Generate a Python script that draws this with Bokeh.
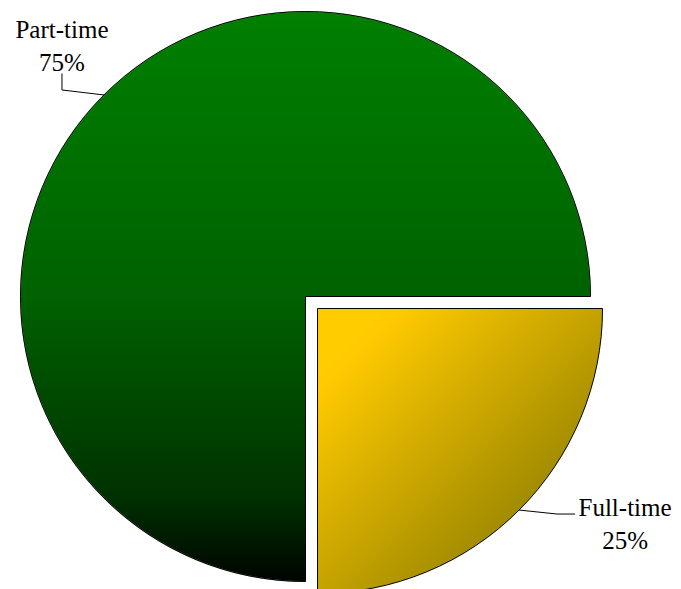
import numpy as np
from bokeh.plotting import figure
from bokeh.models import Range1d, ColumnDataSource
from bokeh.embed import file_html
from bokeh.resources import INLINE
from bokeh.core.properties import value

# ---- data ----
categories = ["Part-time", "Full-time"]
values = [75, 25]
percent_labels = ["75%", "25%"]
explode = [0.0, 17.0]

# ---- layout (pixel units, y up) ----
W, H = 681, 589
CX, CY, R = 305.0, 293.0, 285.0
FONT = "Liberation Serif"
FSIZE = "25px"

total = float(sum(values))
starts, ends = [], []
a = 0.0
for v in values:
    starts.append(a)
    a += 2 * np.pi * v / total
    ends.append(a)
mids = [(s + e) / 2 for s, e in zip(starts, ends)]
cxs = [CX + d * np.cos(m) for d, m in zip(explode, mids)]
cys = [CY + d * np.sin(m) for d, m in zip(explode, mids)]

p = figure(width=W, height=H, x_range=Range1d(0, W), y_range=Range1d(0, H),
           output_backend="svg", toolbar_location=None, min_border=0)
p.axis.visible = False
p.grid.grid_line_color = None
p.outline_line_color = None
p.background_fill_color = "white"
p.border_fill_color = "white"


def green_fn(u, v):
    # vertical gradient over the circle: top bright green -> bottom black
    ty = np.clip((v + 1.0) / 2.0, 0, 1)
    g = np.interp(ty, [0.0, 0.5, 0.85, 1.0], [128, 98, 50, 5])
    return np.zeros_like(g), g, np.zeros_like(g)


def yellow_fn(u, v):
    # diagonal gradient over the quadrant: top-left gold -> bottom-right olive
    t = np.clip((u + v) / 2.0, 0, 1)
    r = np.clip(280 - 167 * t, 0, 255)
    g = np.clip(218 - 110 * t, 0, 204)
    return r, g, np.zeros_like(r)


def wedge_image(cx, cy, r, start, end, fn):
    x0 = np.floor(cx - r) - 2
    y0 = np.floor(cy - r) - 2
    n = int(np.ceil(2 * r)) + 5
    xs = x0 + 0.5 + np.arange(n)
    ys = y0 + 0.5 + np.arange(n)
    X, Y = np.meshgrid(xs, ys)
    dx, dy = X - cx, Y - cy
    dist = np.hypot(dx, dy)
    ang = np.mod(np.arctan2(dy, dx), 2 * np.pi)
    inside = np.mod(ang - start, 2 * np.pi) <= (end - start) + 1e-9
    alpha = np.clip(r - dist + 0.5, 0, 1) * inside
    u = dx / r
    v = -dy / r
    rr, gg, bb = fn(u, v)
    img = np.zeros((n, n), dtype=np.uint32)
    view = img.view(dtype=np.uint8).reshape((n, n, 4))
    view[:, :, 0] = np.clip(rr, 0, 255).astype(np.uint8)
    view[:, :, 1] = np.clip(gg, 0, 255).astype(np.uint8)
    view[:, :, 2] = np.clip(bb, 0, 255).astype(np.uint8)
    view[:, :, 3] = (alpha * 255).astype(np.uint8)
    return img, x0, y0, n


fns = [green_fn, yellow_fn]
for i in range(len(values)):
    img, x0, y0, n = wedge_image(cxs[i], cys[i], R, starts[i], ends[i], fns[i])
    p.image_rgba(image=[img], x=x0, y=y0, dw=n, dh=n)

src = ColumnDataSource(dict(x=cxs, y=cys, start=starts, end=ends, cat=categories))
p.wedge(x="x", y="y", radius=R, start_angle="start", end_angle="end",
        fill_color=None, line_color="black", line_width=1, source=src)

# ---- leader lines & labels ----
lx, ly = [], []
tx1, ty1, tx2, ty2 = [], [], [], []
for i in range(len(values)):
    ex = cxs[i] + R * np.cos(mids[i])
    ey = cys[i] + R * np.sin(mids[i])
    if np.cos(mids[i]) < 0:
        bx, by = ex - 42, ey + 5
        topy = by + 16.5
        lx.append([ex, bx, bx])
        ly.append([ey, by, topy])
        tx1.append(bx); ty1.append(topy + 44)
        tx2.append(bx); ty2.append(topy + 10.5)
    else:
        bx, by = ex + 38, ey - 4
        endx = bx + 18
        lx.append([ex, bx, endx])
        ly.append([ey, by, by])
        tx1.append(endx + 50); ty1.append(by + 6.5)
        tx2.append(endx + 50); ty2.append(by - 26.5)

p.multi_line(xs=lx, ys=ly, line_color="black", line_width=1)
p.text(x=tx1, y=ty1, text=categories, text_font=value(FONT), text_font_size=FSIZE,
       text_align="center", text_baseline="alphabetic", text_color="black")
p.text(x=tx2, y=ty2, text=percent_labels, text_font=value(FONT), text_font_size=FSIZE,
       text_align="center", text_baseline="alphabetic", text_color="black")

open("out.html", "w").write(file_html(p, INLINE))
